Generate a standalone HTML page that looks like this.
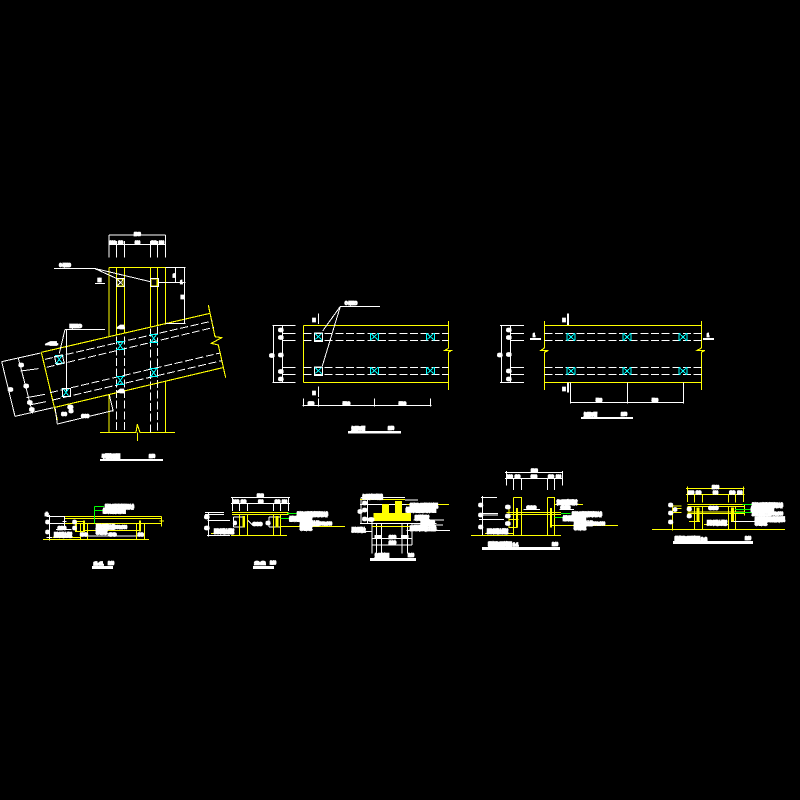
<!DOCTYPE html>
<html><head><meta charset="utf-8"><style>
html,body{margin:0;padding:0;background:#000;width:800px;height:800px;overflow:hidden}
svg{display:block}
.w{stroke:#fff;fill:none;stroke-width:3}
.y{stroke:#ff0;fill:none;stroke-width:3.4}
.g{stroke:#0f0;fill:none;stroke-width:3}
.c{stroke:#0ff;fill:none;stroke-width:3}
.d{stroke:#fff;fill:none;stroke-width:3;stroke-dasharray:24 8}
text{font-family:"Liberation Sans","Noto Sans CJK SC",sans-serif;font-weight:bold;fill:#fff;stroke:#fff;stroke-width:5;font-size:13px}
</style></head><body>
<svg width="800" height="800" viewBox="0 0 800 800" xmlns="http://www.w3.org/2000/svg" shape-rendering="crispEdges">
<defs>
<g id="x"><path class="c" d="M-13 -12H13M-13 12H13M-8 -11L8 11M8 -11L-8 11"/></g>
<g id="z"><path class="c" d="M-12 -10V10M12 -10V10M-12 -10H-8M-12 10H-8M12 -10H8M12 10H8M-9 -8L9 8M9 -8L-9 8"/></g>
</defs>

<!-- Drawing 1 -->
<g transform="translate(0 225) scale(.33333)">
<path class="w" d="M327 30H496M325 58H497M327 30V98M349 48V98M373 48V98M451 48V98M472 48V98M496 30V98"/>
<text x="402" y="31" textLength="20" lengthAdjust="spacingAndGlyphs">1000</text>
<text x="329" y="57" textLength="18" lengthAdjust="spacingAndGlyphs">200</text>
<text x="355" y="57" textLength="14" lengthAdjust="spacingAndGlyphs">80</text>
<text x="405" y="57" textLength="15" lengthAdjust="spacingAndGlyphs">300</text>
<text x="453" y="57" textLength="17" lengthAdjust="spacingAndGlyphs">80</text>
<text x="477" y="57" textLength="15" lengthAdjust="spacingAndGlyphs">200</text>
<path class="y" d="M327 127H496M327 127V335M349 127V330M373 127V326M451 127V305M472 127V300M496 127V298"/>
<path class="y" d="M327 510V622M496 468V622M300 622H408L412 598L420 622H525M412 622V648"/>
<path class="d" d="M349 335V622M373 335V622M451 310V622M472 305V622"/>
<path class="y" d="M124 382L630 265M165 547L668 428M124 382L172 585M625 240L645 335L665 338L634 355L655 360L677 458"/>
<path class="d" d="M135 403L637 288M140 427L642 307M150 503L660 384M158 525L665 407"/>
<use href="#x" x="361" y="362"/><use href="#x" x="461" y="340"/><use href="#x" x="361" y="466"/><use href="#x" x="461" y="443"/><use href="#x" x="178" y="403"/><use href="#x" x="198" y="502"/>
<path class="w" d="M349 160H373V185H349ZM451 160H475V185H451ZM351 162L371 183M371 162L351 183M162 130H283L349 160M283 130L451 170M285 175H315M476 172H556M497 127H556M527 127V172M553 127V296M497 296H556"/>
<rect x="352" y="163" width="17" height="20" fill="none" stroke="#ff0" stroke-width="2"/>
<rect x="454" y="164" width="17" height="18" fill="none" stroke="#ff0" stroke-width="2"/>
<text x="178" y="124" textLength="34" lengthAdjust="spacingAndGlyphs">6-M16</text>
<text x="294" y="170" textLength="9" lengthAdjust="spacingAndGlyphs">II</text>
<text x="519" y="156" textLength="7" lengthAdjust="spacingAndGlyphs">1</text>
<text x="541" y="176" textLength="6" lengthAdjust="spacingAndGlyphs">1</text>
<text x="543" y="220" textLength="10" lengthAdjust="spacingAndGlyphs">H</text>
<text x="355" y="310" textLength="15" lengthAdjust="spacingAndGlyphs">4</text>
<text x="355" y="503" textLength="15" lengthAdjust="spacingAndGlyphs">4</text>
<path class="w" d="M195 313H315M195 313L178 385M199 313V498"/>
<text x="210" y="307" textLength="34" lengthAdjust="spacingAndGlyphs">M16</text>
<text x="143" y="360" textLength="24" lengthAdjust="spacingAndGlyphs">4</text>
<path class="w" d="M5 410L122 384M5 410L45 574M45 574L160 548M55 400L98 565M62 438L115 431M80 518L135 508M88 540L138 530M165 547L172 597L338 557M328 510L340 560"/>
<rect x="187" y="491" width="24" height="24" fill="none" stroke="#fff" stroke-width="3"/>
<rect x="166" y="392" width="24" height="24" fill="none" stroke="#fff" stroke-width="3" transform="rotate(-13 178 404)"/>
<text x="58" y="425" textLength="11" lengthAdjust="spacingAndGlyphs">8</text>
<text x="73" y="487" textLength="11" lengthAdjust="spacingAndGlyphs">8</text>
<text x="26" y="498" textLength="11" lengthAdjust="spacingAndGlyphs">8</text>
<text x="84" y="537" textLength="11" lengthAdjust="spacingAndGlyphs">8</text>
<text x="90" y="558" textLength="11" lengthAdjust="spacingAndGlyphs">8</text>
<text x="205" y="550" textLength="12" lengthAdjust="spacingAndGlyphs">8</text>
<text x="208" y="562" textLength="10" lengthAdjust="spacingAndGlyphs">8</text>
<text x="185" y="572" textLength="15" lengthAdjust="spacingAndGlyphs">80</text>
<text x="245" y="577" textLength="22" lengthAdjust="spacingAndGlyphs">300</text>
<rect x="300" y="702" width="189" height="6" fill="#fff"/>
<text x="306" y="699" textLength="54" lengthAdjust="spacingAndGlyphs">平面布置图</text>
<text x="447" y="697" textLength="18" lengthAdjust="spacingAndGlyphs">1:50</text>
</g>

<!-- Drawing 2 -->
<g transform="translate(260 295) scale(.33333)">
<path class="y" d="M130 91H565M130 262H565M130 91V262M565 78V160L555 166H575L565 172V285"/>
<path class="d" d="M130 115H565M130 136H565M130 217H565M130 238H565"/>
<use href="#z" x="343" y="125"/><use href="#z" x="511" y="125"/><use href="#z" x="343" y="227"/><use href="#z" x="511" y="227"/><use href="#z" x="175" y="125"/><use href="#z" x="175" y="227"/>
<rect x="163" y="114" width="24" height="25" fill="none" stroke="#fff" stroke-width="3"/>
<rect x="163" y="216" width="24" height="25" fill="none" stroke="#fff" stroke-width="3"/>
<path class="w" d="M37 91H107M37 262H107M40 91V262M67 91V262M67 115H107M67 136H107M67 217H107M67 238H107M175 55V87M175 274V306M127 331H515M130 310V335M175 310V335M343 310V335M511 310V335M360 34H241L188 108M241 34L187 213"/>
<text x="255" y="29" textLength="36" lengthAdjust="spacingAndGlyphs">6-M16</text>
<text x="159" y="80" textLength="6" lengthAdjust="spacingAndGlyphs">I</text>
<text x="159" y="299" textLength="6" lengthAdjust="spacingAndGlyphs">I</text>
<text x="30" y="186" textLength="11" lengthAdjust="spacingAndGlyphs">8</text>
<text x="57" y="110" textLength="11" lengthAdjust="spacingAndGlyphs">8</text>
<text x="57" y="132" textLength="11" lengthAdjust="spacingAndGlyphs">8</text>
<text x="57" y="184" textLength="11" lengthAdjust="spacingAndGlyphs">8</text>
<text x="57" y="234" textLength="11" lengthAdjust="spacingAndGlyphs">8</text>
<text x="57" y="256" textLength="11" lengthAdjust="spacingAndGlyphs">8</text>
<text x="144" y="330" textLength="18" lengthAdjust="spacingAndGlyphs">150</text>
<text x="249" y="330" textLength="21" lengthAdjust="spacingAndGlyphs">500</text>
<text x="417" y="330" textLength="21" lengthAdjust="spacingAndGlyphs">500</text>
<rect x="264" y="408" width="159" height="8" fill="#fff"/>
<text x="275" y="407" textLength="40" lengthAdjust="spacingAndGlyphs">加固平面</text>
<text x="384" y="404" textLength="18" lengthAdjust="spacingAndGlyphs">1:50</text>
</g>

<!-- Drawing 3 -->
<g transform="translate(490 300) scale(.33333)">
<path class="y" d="M163 76H634M163 247H634M163 63V144L153 151H175L163 157V270M634 63V144L622 151H645L634 157V270"/>
<path class="d" d="M163 100H634M163 121H634M163 202H634M163 223H634"/>
<use href="#z" x="243" y="111"/><use href="#z" x="411" y="111"/><use href="#z" x="579" y="111"/><use href="#z" x="243" y="213"/><use href="#z" x="411" y="213"/><use href="#z" x="579" y="213"/>
<path class="w" d="M30 76H102M30 247H102M34 76V247M61 76V247M61 100H102M61 121H102M61 202H102M61 223H102M241 248V310M412 248V310M580 248V310M241 307H580"/>
<path stroke="#fff" stroke-width="6" fill="none" d="M234 40V75M234 248V278M120 117H153M639 117H672"/>
<text x="219" y="65" textLength="6" lengthAdjust="spacingAndGlyphs">I</text>
<text x="219" y="272" textLength="6" lengthAdjust="spacingAndGlyphs">I</text>
<text x="129" y="110" textLength="6" lengthAdjust="spacingAndGlyphs">1</text>
<text x="651" y="110" textLength="6" lengthAdjust="spacingAndGlyphs">1</text>
<text x="24" y="170" textLength="11" lengthAdjust="spacingAndGlyphs">8</text>
<text x="51" y="95" textLength="11" lengthAdjust="spacingAndGlyphs">8</text>
<text x="51" y="117" textLength="11" lengthAdjust="spacingAndGlyphs">8</text>
<text x="51" y="168" textLength="11" lengthAdjust="spacingAndGlyphs">8</text>
<text x="51" y="218" textLength="11" lengthAdjust="spacingAndGlyphs">8</text>
<text x="51" y="241" textLength="11" lengthAdjust="spacingAndGlyphs">8</text>
<text x="318" y="305" textLength="18" font-size="8" lengthAdjust="spacingAndGlyphs">500</text>
<text x="486" y="305" textLength="18" font-size="8" lengthAdjust="spacingAndGlyphs">500</text>
<rect x="273" y="351" width="156" height="6" fill="#fff"/>
<text x="282" y="349" textLength="39" lengthAdjust="spacingAndGlyphs">加固平面</text>
<text x="393" y="347" textLength="18" lengthAdjust="spacingAndGlyphs">1:50</text>
</g>

<!-- Drawing 4 -->
<g transform="translate(30 490) scale(.33333)">
<path class="w" d="M58 75V152M50 79H105M50 100H105M50 142H66M103 79V118M78 118H125M97 94H110M150 138H343"/>
<path class="y" d="M105 79H395M105 85H395M105 100H395M395 79V110M388 93H402M39 148H357M172 100V148M151 100V148M319 100V148M343 100V148M165 121H330"/>
<path stroke="#ff0" stroke-width="6" fill="none" d="M138 91V125M162 91V125M330 91V125"/>
<path class="y" d="M135 95H165M135 124H165M67 142H150"/>
<path class="g" d="M193 49V100M193 49H222M193 62H222"/>
<text x="46" y="77" textLength="8" lengthAdjust="spacingAndGlyphs">±</text>
<text x="48" y="100" textLength="9" lengthAdjust="spacingAndGlyphs">8</text>
<text x="48" y="131" textLength="9" lengthAdjust="spacingAndGlyphs">8</text>
<text x="225" y="56" textLength="87" lengthAdjust="spacingAndGlyphs">粘钢加固做法详见说明文件</text>
<text x="219" y="68" textLength="68" lengthAdjust="spacingAndGlyphs">结构胶粘贴钢板加固</text>
<text x="84" y="118" textLength="24" lengthAdjust="spacingAndGlyphs">200</text>
<text x="72" y="140" textLength="54" lengthAdjust="spacingAndGlyphs">原有混凝土楼板</text>
<text x="198" y="116" textLength="93" lengthAdjust="spacingAndGlyphs">原有混凝土梁300x600</text>
<text x="198" y="131" textLength="34" lengthAdjust="spacingAndGlyphs">新增钢板</text>
<text x="237" y="138" textLength="21" lengthAdjust="spacingAndGlyphs">80</text>
<text x="152" y="138" textLength="20" lengthAdjust="spacingAndGlyphs">80</text>
<text x="324" y="138" textLength="16" lengthAdjust="spacingAndGlyphs">80</text>
<text x="129" y="100" textLength="9" lengthAdjust="spacingAndGlyphs">8</text>
<text x="129" y="118" textLength="9" lengthAdjust="spacingAndGlyphs">8</text>
<rect x="186" y="228" width="63" height="9" fill="#fff"/>
<text x="192" y="225" textLength="27" lengthAdjust="spacingAndGlyphs">1-1</text>
<text x="234" y="224" textLength="18" lengthAdjust="spacingAndGlyphs">1:10</text>
</g>

<!-- Drawing 5 -->
<g transform="translate(195 485) scale(.33333)">
<path class="w" d="M108 37H285M108 55H285M112 37V78M133 55V78M157 55V78M235 55V78M256 55V78M280 37V78M30 82H87M30 88H87M38 106H105M40 82V155M36 151H105M115 96V126M222 96V126M115 96H150M222 96H256M115 126H150M222 126H256M157 105L174 122H200"/>
<path class="y" d="M111 82H280M111 88H280M133 88V151M157 88V151M235 88V151M256 88V151M108 151H276M48 145H105M256 124H450"/>
<path stroke="#ff0" stroke-width="8" fill="none" d="M146 93V128M246 93V128"/>
<path class="g" d="M276 85H306M256 100H283"/>
<text x="186" y="36" textLength="20" lengthAdjust="spacingAndGlyphs">1000</text>
<text x="113" y="54" textLength="19" lengthAdjust="spacingAndGlyphs">200</text>
<text x="138" y="54" textLength="15" lengthAdjust="spacingAndGlyphs">80</text>
<text x="190" y="54" textLength="15" lengthAdjust="spacingAndGlyphs">300</text>
<text x="240" y="54" textLength="15" lengthAdjust="spacingAndGlyphs">80</text>
<text x="261" y="54" textLength="15" lengthAdjust="spacingAndGlyphs">200</text>
<text x="30" y="101" textLength="11" lengthAdjust="spacingAndGlyphs">8</text>
<text x="30" y="134" textLength="11" lengthAdjust="spacingAndGlyphs">8</text>
<text x="57" y="144" textLength="60" lengthAdjust="spacingAndGlyphs">原有混凝土楼板</text>
<text x="174" y="122" textLength="27" lengthAdjust="spacingAndGlyphs">300</text>
<text x="116" y="118" textLength="8" lengthAdjust="spacingAndGlyphs">8</text>
<text x="214" y="118" textLength="10" lengthAdjust="spacingAndGlyphs">8</text>
<text x="306" y="93" textLength="93" lengthAdjust="spacingAndGlyphs">粘钢加固做法详见说明文件</text>
<text x="283" y="107" textLength="68" lengthAdjust="spacingAndGlyphs">结构胶粘贴钢板加固</text>
<text x="315" y="120" textLength="96" lengthAdjust="spacingAndGlyphs">原有混凝土梁300x600</text>
<text x="315" y="134" textLength="36" lengthAdjust="spacingAndGlyphs">新增钢板</text>
<rect x="174" y="243" width="63" height="9" fill="#fff"/>
<text x="180" y="239" textLength="30" lengthAdjust="spacingAndGlyphs">2-2</text>
<text x="225" y="237" textLength="18" lengthAdjust="spacingAndGlyphs">1:10</text>
</g>

<!-- Drawing 6 -->
<g transform="translate(350 485) scale(.33333)">
<path class="w" d="M33 38H165M33 38V115M52 38V115M30 58H170M30 115H66M66 110V205M80 115V205M94 115V205M156 115V205M172 115V205M186 115V180M66 160H186M66 180H186M52 115H260M190 105H282M190 120H279M170 136H300M5 139H66M165 45H204"/>
<path class="y" d="M30 43H165M170 58H297M66 125H190"/>
<rect x="96" y="57" width="21" height="50" fill="#ff0"/>
<rect x="135" y="48" width="21" height="60" fill="#ff0"/>
<rect x="70" y="84" width="113" height="24" fill="#ff0"/>
<rect x="74" y="150" width="22" height="12" fill="#fff"/>
<rect x="153" y="150" width="22" height="12" fill="#fff"/>
<text x="117" y="160" textLength="21" lengthAdjust="spacingAndGlyphs">200</text>
<text x="117" y="177" textLength="21" lengthAdjust="spacingAndGlyphs">200</text>
<text x="38" y="41" textLength="60" lengthAdjust="spacingAndGlyphs">加固详图做法</text>
<text x="25" y="84" textLength="10" lengthAdjust="spacingAndGlyphs">8</text>
<text x="39" y="58" textLength="10" lengthAdjust="spacingAndGlyphs">8</text>
<text x="39" y="80" textLength="10" lengthAdjust="spacingAndGlyphs">8</text>
<text x="39" y="106" textLength="10" lengthAdjust="spacingAndGlyphs">8</text>
<text x="57" y="108" textLength="13" lengthAdjust="spacingAndGlyphs">8</text>
<text x="180" y="68" textLength="84" lengthAdjust="spacingAndGlyphs">粘钢加固做法详见</text>
<text x="168" y="80" textLength="90" lengthAdjust="spacingAndGlyphs">结构胶粘贴钢板加固</text>
<text x="195" y="104" textLength="42" lengthAdjust="spacingAndGlyphs">新增钢板</text>
<text x="212" y="120" textLength="42" lengthAdjust="spacingAndGlyphs">原有楼板</text>
<text x="180" y="135" textLength="78" lengthAdjust="spacingAndGlyphs">原有混凝土梁</text>
<text x="5" y="139" textLength="42" lengthAdjust="spacingAndGlyphs">原有混凝土</text>
<rect x="60" y="219" width="138" height="9" fill="#fff"/>
<text x="75" y="217" textLength="42" lengthAdjust="spacingAndGlyphs">加固详图</text>
<text x="174" y="215" textLength="18" lengthAdjust="spacingAndGlyphs">1:10</text>
</g>

<!-- Drawing 7 -->
<g transform="translate(465 465) scale(.33333)">
<path class="w" d="M120 22H294M120 40H294M124 18V62M145 40V75M169 40V75M247 40V75M268 40V75M292 18V62M48 97H96M52 93V210M42 145H99M42 150H99M42 163H117M175 133H225M284 133H327"/>
<path class="y" d="M18 211H288M60 205H145M145 97H169V211M145 97V211M247 97H269V211M247 97V211M124 142H288M124 148H288M132 130V187H157M132 163H160M268 118H354M258 181H459"/>
<path stroke="#ff0" stroke-width="6" fill="none" d="M156 129V187M258 129V187"/>
<path class="g" d="M288 145H316M268 157H296"/>
<text x="198" y="21" textLength="20" lengthAdjust="spacingAndGlyphs">1000</text>
<text x="125" y="39" textLength="18" lengthAdjust="spacingAndGlyphs">200</text>
<text x="150" y="39" textLength="15" lengthAdjust="spacingAndGlyphs">80</text>
<text x="198" y="39" textLength="18" lengthAdjust="spacingAndGlyphs">300</text>
<text x="250" y="39" textLength="16" lengthAdjust="spacingAndGlyphs">80</text>
<text x="273" y="39" textLength="15" lengthAdjust="spacingAndGlyphs">200</text>
<text x="186" y="132" textLength="27" lengthAdjust="spacingAndGlyphs">300</text>
<text x="288" y="132" textLength="27" lengthAdjust="spacingAndGlyphs">300</text>
<text x="276" y="117" textLength="60" lengthAdjust="spacingAndGlyphs">加固钢板</text>
<text x="321" y="153" textLength="90" lengthAdjust="spacingAndGlyphs">粘钢加固做法详见说明文件</text>
<text x="294" y="165" textLength="69" lengthAdjust="spacingAndGlyphs">结构胶粘贴钢板加固</text>
<text x="327" y="180" textLength="93" lengthAdjust="spacingAndGlyphs">原有混凝土梁300x600</text>
<text x="327" y="192" textLength="36" lengthAdjust="spacingAndGlyphs">新增钢板</text>
<text x="66" y="204" textLength="63" lengthAdjust="spacingAndGlyphs">原有混凝土楼板</text>
<text x="42" y="125" textLength="10" lengthAdjust="spacingAndGlyphs">8</text>
<text x="42" y="155" textLength="10" lengthAdjust="spacingAndGlyphs">8</text>
<text x="42" y="190" textLength="10" lengthAdjust="spacingAndGlyphs">8</text>
<text x="123" y="130" textLength="11" lengthAdjust="spacingAndGlyphs">8</text>
<text x="123" y="158" textLength="11" lengthAdjust="spacingAndGlyphs">8</text>
<text x="123" y="180" textLength="11" lengthAdjust="spacingAndGlyphs">8</text>
<rect x="51" y="246" width="234" height="9" fill="#fff"/>
<text x="70" y="243" textLength="90" lengthAdjust="spacingAndGlyphs">粘钢加固详图 1-1</text>
<text x="261" y="241" textLength="18" lengthAdjust="spacingAndGlyphs">1:10</text>
</g>

<!-- Drawing 8 -->
<g transform="translate(645 480) scale(.33333)">
<path class="y" d="M123 26H299M123 43H299M127 20V66M148 43V68M172 43V68M250 43V68M271 43V68M295 20V66"/>
<path class="y" d="M21 148H420M82 75V152M82 78H110M82 85H110M82 98H110M127 73H298M127 79H298M127 96H298M127 100H298M148 79V148M172 79V148M250 79V148M271 79V148M298 75V106M132 124H165M177 133H250"/>
<path class="w" d="M258 124H420"/>
<path stroke="#ff0" stroke-width="9" fill="none" d="M159 82V124M262 82V124"/>
<path class="g" d="M292 73H321M270 88H318M270 97H321"/>
<text x="201" y="25" textLength="21" lengthAdjust="spacingAndGlyphs">1000</text>
<text x="129" y="42" textLength="18" lengthAdjust="spacingAndGlyphs">200</text>
<text x="153" y="42" textLength="15" lengthAdjust="spacingAndGlyphs">80</text>
<text x="204" y="42" textLength="15" lengthAdjust="spacingAndGlyphs">300</text>
<text x="254" y="42" textLength="16" lengthAdjust="spacingAndGlyphs">80</text>
<text x="277" y="42" textLength="15" lengthAdjust="spacingAndGlyphs">200</text>
<text x="72" y="79" textLength="10" lengthAdjust="spacingAndGlyphs">8</text>
<text x="72" y="104" textLength="10" lengthAdjust="spacingAndGlyphs">8</text>
<text x="72" y="130" textLength="10" lengthAdjust="spacingAndGlyphs">8</text>
<text x="86" y="93" textLength="9" lengthAdjust="spacingAndGlyphs">8</text>
<text x="128" y="92" textLength="10" lengthAdjust="spacingAndGlyphs">8</text>
<text x="128" y="113" textLength="10" lengthAdjust="spacingAndGlyphs">8</text>
<text x="192" y="88" textLength="27" lengthAdjust="spacingAndGlyphs">300</text>
<text x="186" y="134" textLength="60" lengthAdjust="spacingAndGlyphs">原有混凝土楼板</text>
<text x="321" y="81" textLength="93" lengthAdjust="spacingAndGlyphs">粘钢加固做法详见说明文件</text>
<text x="318" y="93" textLength="69" lengthAdjust="spacingAndGlyphs">结构胶粘贴钢板加固</text>
<text x="321" y="105" textLength="93" lengthAdjust="spacingAndGlyphs">原有混凝土梁300x600</text>
<text x="330" y="123" textLength="90" lengthAdjust="spacingAndGlyphs">新增钢板加固做法详见</text>
<text x="330" y="134" textLength="36" lengthAdjust="spacingAndGlyphs">新增钢板</text>
<rect x="84" y="183" width="240" height="9" fill="#fff"/>
<text x="90" y="181" textLength="96" lengthAdjust="spacingAndGlyphs">粘钢加固详图 2-2</text>
<text x="300" y="179" textLength="18" lengthAdjust="spacingAndGlyphs">1:10</text>
</g>
</svg>
</body></html>
